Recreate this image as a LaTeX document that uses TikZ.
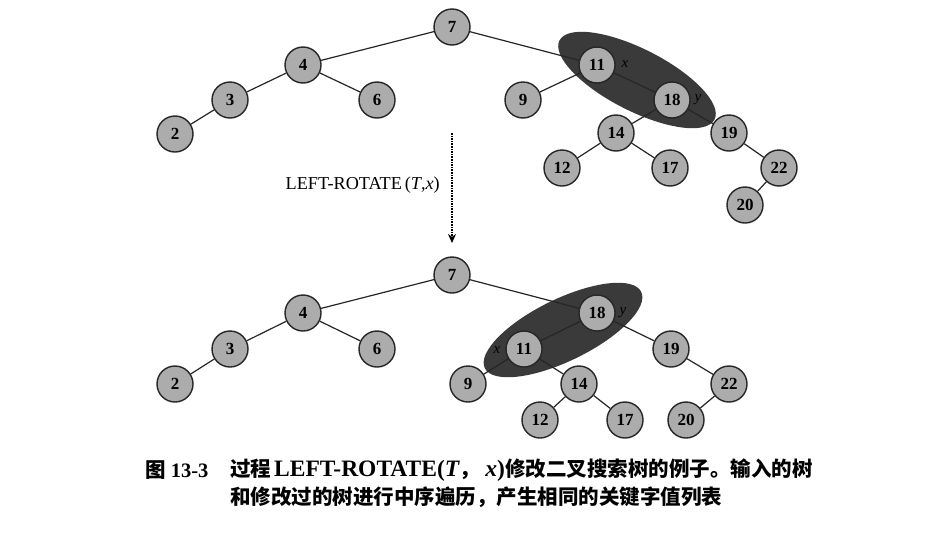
\documentclass[tikz,border=0pt]{standalone}
\usepackage{fontspec}
\setmainfont{Liberation Serif}
\newfontfamily\cjk{Noto Sans CJK SC}
\usetikzlibrary{arrows.meta}
\pgfdeclarelayer{bg}
\pgfsetlayers{bg,main}
\definecolor{nodegray}{RGB}{172,172,172}
\definecolor{ellgray}{RGB}{58,58,58}
\tikzset{
  tn/.style={circle,draw=black!85,line width=1.4pt,fill=nodegray,minimum size=36pt,inner sep=0pt,font=\fontsize{17}{17}\selectfont\bfseries},
  edge/.style={line width=1.2pt,draw=black!85},
  ell/.style={fill=ellgray},
  lbl/.style={font=\fontsize{15}{15}\selectfont\itshape,inner sep=0pt},
  captxt/.style={font=\fontsize{20.5}{20.5}\selectfont\bfseries,inner sep=0pt,anchor=west}
}
\newcommand{\latc}{\fontsize{23.5}{23.5}\selectfont}
\begin{document}
\begin{tikzpicture}[x=1pt,y=-1pt]
\useasboundingbox (0,0) rectangle (944,536);
% top tree
\node[tn] (a7) at (452,27) {7};
\node[tn] (a4) at (303,65) {4};
\node[tn] (a3) at (230,100) {3};
\node[tn] (a6) at (377,100) {6};
\node[tn] (a2) at (175,134) {2};
\node[tn] (a11) at (597,65) {11};
\node[tn] (a9) at (523,100) {9};
\node[tn] (a18) at (672,100) {18};
\node[tn] (a14) at (616,133) {14};
\node[tn] (a19) at (729,133) {19};
\node[tn] (a12) at (562,168) {12};
\node[tn] (a17) at (670,168) {17};
\node[tn] (a22) at (779,168) {22};
\node[tn] (a20) at (745,205) {20};
\node[lbl] (ax) at (625,64) {x};
\node[lbl] (ay) at (698,100) {y};
% bottom tree
\node[tn] (b7) at (452,275) {7};
\node[tn] (b4) at (303,313) {4};
\node[tn] (b3) at (230,349) {3};
\node[tn] (b6) at (377,349) {6};
\node[tn] (b2) at (175,384) {2};
\node[tn] (b18) at (597,313) {18};
\node[tn] (b11) at (524,349) {11};
\node[tn] (b19) at (671,349) {19};
\node[tn] (b9) at (468,384) {9};
\node[tn] (b14) at (579,384) {14};
\node[tn] (b22) at (729,384) {22};
\node[tn] (b12) at (540,420) {12};
\node[tn] (b17) at (625,420) {17};
\node[tn] (b20) at (686,420) {20};
\node[lbl] (bx) at (497,350) {x};
\node[lbl] (by) at (623,313) {y};
\begin{pgfonlayer}{bg}
\fill[white] (0,0) rectangle (944,536);
\fill[ell,rotate around={-27:(637,80)}] (637,80) ellipse [x radius=87pt, y radius=31pt];
\fill[ell,rotate around={26:(563,330)}] (563,330) ellipse [x radius=87pt, y radius=31pt];
\foreach \p/\c in {a7/a4,a7/a11,a4/a3,a4/a6,a3/a2,a11/a9,a11/a18,a18/a14,a18/a19,a14/a12,a14/a17,a19/a22,a22/a20,
  b7/b4,b7/b18,b4/b3,b4/b6,b3/b2,b18/b11,b18/b19,b11/b9,b11/b14,b14/b12,b14/b17,b19/b22,b22/b20}
  \draw[edge] (\p) -- (\c);
\end{pgfonlayer}
% arrow
\coordinate (arrS) at (452,133);
\coordinate (arrE) at (452,243);
\draw[line width=1.6pt,densely dotted,-{Stealth[length=9pt,width=8pt]}] (arrS) -- (arrE);
\node[font=\fontsize{18.2}{18.2}\selectfont,anchor=east,inner sep=0pt] (op) at (440,185) {LEFT-ROTATE\,(\textit{T},\textit{x})};
% caption
\node[captxt] (capn) at (145,470) {{\cjk 图} 13-3};
\node[captxt] (cap1) at (230,470) {{\cjk 过程}\kern3pt{\latc LEFT-ROTATE(\textit{T}}{\cjk ，}{\latc\kern5pt\textit{x})}{\cjk 修改二叉搜索树的例子。输入的树}};
\node[captxt] (cap2) at (230,497) {{\cjk 和修改过的树进行中序遍历，产生相同的关键字值列表}};
\end{tikzpicture}
\end{document}
